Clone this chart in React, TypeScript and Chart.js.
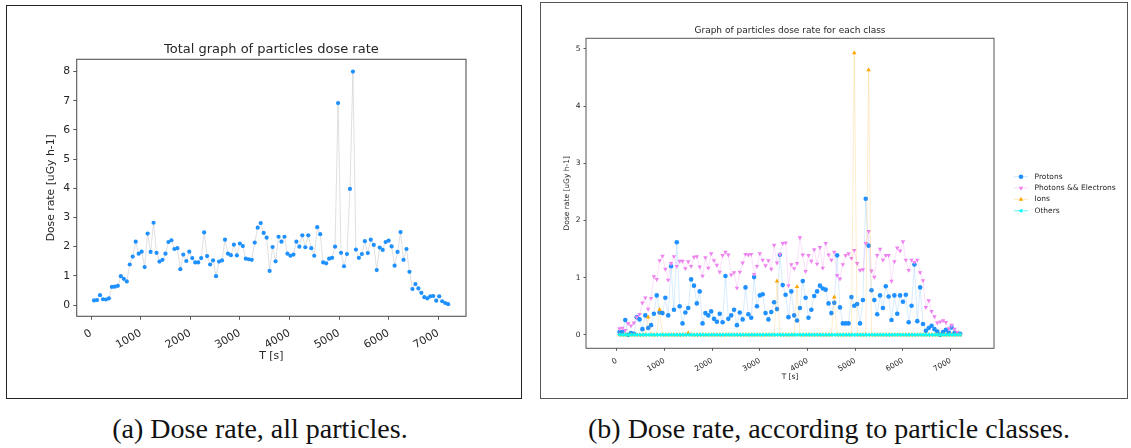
import React, { useEffect, useRef } from "react";
import { Chart, registerables } from "chart.js";

Chart.register(...registerables);

// Sampling instants of the dose-rate series [s]
const timeSec = [
  60, 120, 180, 240, 300, 360, 420, 480, 540, 600,
  660, 720, 780, 840, 900, 960, 1020, 1080, 1140, 1200,
  1260, 1320, 1380, 1440, 1500, 1560, 1620, 1680, 1740, 1800,
  1860, 1920, 1980, 2040, 2100, 2160, 2220, 2280, 2340, 2400,
  2460, 2520, 2580, 2640, 2700, 2760, 2820, 2880, 2940, 3000,
  3060, 3120, 3180, 3240, 3300, 3360, 3420, 3480, 3540, 3600,
  3660, 3720, 3780, 3840, 3900, 3960, 4020, 4080, 4140, 4200,
  4260, 4320, 4380, 4440, 4500, 4560, 4620, 4680, 4740, 4800,
  4860, 4920, 4980, 5040, 5100, 5160, 5220, 5280, 5340, 5400,
  5460, 5520, 5580, 5640, 5700, 5760, 5820, 5880, 5940, 6000,
  6060, 6120, 6180, 6240, 6300, 6360, 6420, 6480, 6540, 6600,
  6660, 6720, 6780, 6840, 6900, 6960, 7020, 7080, 7140, 7200,
];

// Total dose rate, all particles [uGy h-1]
const totalDose = [
  0.16, 0.17, 0.34, 0.20, 0.19, 0.23, 0.62, 0.63, 0.66, 0.99,
  0.90, 0.81, 1.39, 1.66, 2.17, 1.76, 1.83, 1.30, 2.45, 1.82,
  2.82, 1.79, 1.49, 1.55, 1.76, 2.16, 2.22, 1.92, 1.95, 1.23,
  1.73, 1.51, 1.83, 1.61, 1.46, 1.46, 1.61, 2.49, 1.68, 1.39,
  1.53, 0.99, 1.49, 1.53, 2.24, 1.76, 1.71, 2.07, 1.70, 2.11,
  2.02, 1.59, 1.57, 1.55, 2.14, 2.65, 2.81, 2.47, 2.31, 1.17,
  1.99, 1.50, 2.34, 2.17, 2.34, 1.76, 1.69, 1.73, 2.17, 2.00,
  2.39, 1.98, 2.39, 1.95, 1.69, 2.67, 2.43, 1.46, 1.43, 1.59,
  1.62, 2.00, 6.92, 1.79, 1.33, 1.75, 3.98, 8.00, 1.90, 1.62,
  1.75, 2.19, 1.78, 2.24, 2.06, 1.20, 1.97, 1.89, 2.16, 2.21,
  2.01, 1.35, 1.82, 2.50, 1.55, 1.92, 1.14, 0.55, 0.72, 0.57,
  0.42, 0.27, 0.23, 0.30, 0.31, 0.15, 0.30, 0.13, 0.07, 0.03,
];

// Dose rate per particle class [uGy h-1]
const protonDose = [
  0.05, 0.05, 0.26, 0.00, 0.03, 0.02, 0.31, 0.27, 0.10, 0.34,
  0.12, 0.17, 0.37, 0.69, 0.39, 0.38, 0.65, 0.34, 1.20, 0.44,
  1.62, 0.50, 0.20, 0.39, 0.47, 0.97, 0.86, 0.55, 0.76, 0.20,
  0.38, 0.34, 0.41, 0.28, 0.23, 0.37, 0.22, 1.03, 0.28, 0.34,
  0.44, 0.17, 0.39, 0.27, 0.83, 0.36, 0.30, 1.01, 0.50, 0.69,
  0.71, 0.38, 0.27, 0.40, 0.57, 0.45, 1.40, 0.87, 0.70, 0.31,
  0.76, 0.34, 0.25, 0.47, 0.94, 0.65, 0.30, 0.44, 0.68, 0.76,
  0.86, 0.81, 0.79, 0.55, 0.38, 0.56, 1.39, 0.48, 0.20, 0.20,
  0.20, 0.66, 0.51, 0.54, 0.20, 0.61, 2.38, 1.56, 0.78, 0.61,
  0.36, 0.69, 0.47, 0.85, 0.67, 0.26, 0.69, 0.37, 0.69, 0.58,
  0.70, 0.22, 0.51, 1.23, 0.24, 0.83, 0.19, 0.07, 0.12, 0.16,
  0.10, 0.06, 0.00, 0.05, 0.09, 0.04, 0.13, 0.03, 0.02, 0.02,
];

const photonDose = [
  0.11, 0.12, 0.08, 0.20, 0.16, 0.21, 0.31, 0.36, 0.56, 0.65,
  0.45, 0.64, 1.02, 0.97, 1.30, 1.38, 1.15, 0.96, 1.25, 1.37,
  1.20, 1.29, 1.29, 1.16, 1.28, 1.20, 1.36, 1.37, 1.19, 1.03,
  1.35, 1.17, 1.42, 1.30, 1.22, 1.10, 1.39, 1.45, 1.40, 1.05,
  1.09, 0.82, 1.10, 1.26, 1.41, 1.40, 1.41, 1.06, 1.20, 1.42,
  1.31, 1.21, 1.30, 1.15, 1.57, 1.26, 1.41, 1.60, 1.61, 0.86,
  1.23, 1.16, 1.25, 1.70, 1.40, 1.11, 1.39, 1.29, 1.49, 1.24,
  1.53, 1.17, 1.60, 1.40, 1.31, 1.45, 1.04, 0.98, 1.23, 1.39,
  1.42, 1.34, 1.48, 1.25, 1.13, 1.14, 1.60, 1.81, 1.12, 1.01,
  1.39, 1.50, 1.31, 1.39, 1.39, 0.94, 1.28, 1.52, 1.47, 1.63,
  1.31, 1.13, 1.31, 1.27, 1.31, 1.09, 0.95, 0.48, 0.60, 0.41,
  0.32, 0.21, 0.23, 0.25, 0.22, 0.11, 0.17, 0.10, 0.05, 0.01,
];

const ionDose = [
  0, 0, 0, 0, 0, 0, 0, 0, 0, 0,
  0.31, 0, 0, 0, 0.44, 0, 0, 0, 0, 0,
  0, 0, 0, 0, 0.03, 0, 0, 0, 0, 0,
  0, 0, 0, 0, 0, 0, 0, 0, 0, 0,
  0, 0, 0, 0, 0, 0, 0, 0, 0, 0,
  0, 0, 0, 0, 0, 0.94, 0, 0, 0, 0,
  0, 0, 0.84, 0, 0, 0, 0, 0, 0, 0,
  0, 0, 0, 0, 0, 0.66, 0, 0, 0, 0,
  0, 0, 4.93, 0, 0, 0, 0, 4.63, 0, 0,
  0, 0, 0, 0, 0, 0, 0, 0, 0, 0,
  0, 0, 0, 0, 0, 0, 0, 0, 0, 0,
  0, 0, 0, 0, 0, 0, 0, 0, 0, 0,
];

const otherDose = [
  0, 0, 0, 0, 0, 0, 0, 0, 0, 0,
  0, 0, 0, 0, 0, 0, 0, 0, 0, 0,
  0, 0, 0, 0, 0, 0, 0, 0, 0, 0,
  0, 0, 0, 0, 0, 0, 0, 0, 0, 0,
  0, 0, 0, 0, 0, 0, 0, 0, 0, 0,
  0, 0, 0, 0, 0, 0, 0, 0, 0, 0,
  0, 0, 0, 0, 0, 0, 0, 0, 0, 0,
  0, 0, 0, 0, 0, 0, 0, 0, 0, 0,
  0, 0, 0, 0, 0, 0, 0, 0, 0, 0,
  0, 0, 0, 0, 0, 0, 0, 0, 0, 0,
  0, 0, 0, 0, 0, 0, 0, 0, 0, 0,
  0, 0, 0, 0, 0, 0, 0, 0, 0, 0,
];

const classLabels = ["Protons", "Photons && Electrons", "Ions", "Others"];

const timeTicks = [0, 1000, 2000, 3000, 4000, 5000, 6000, 7000];
const totalTicks = [0, 1, 2, 3, 4, 5, 6, 7, 8];
const classTicks = [0, 1, 2, 3, 4, 5];

const SANS = "'DejaVu Sans', 'Liberation Sans', sans-serif";
const SERIF = "'Liberation Serif', 'DejaVu Serif', serif";
const TEXT = "#262626";

const toPoints = (values: number[]) =>
  values.map((v, k) => ({ x: timeSec[k], y: v }));

// Full rectangular frame around the plotting area (all four spines)
const axesFrame = {
  id: "axesFrame",
  afterDraw(chart: any, _args: any, opts: any) {
    const { ctx, chartArea } = chart;
    const { left, top, right, bottom } = chartArea;
    ctx.save();
    ctx.strokeStyle = opts.color || "#444";
    ctx.lineWidth = opts.width || 1;
    ctx.strokeRect(left, top, right - left, bottom - top);
    ctx.restore();
  },
};

function drawMarker(
  ctx: CanvasRenderingContext2D,
  style: string,
  rotation: number,
  r: number,
  x: number,
  y: number,
  color: string
) {
  ctx.fillStyle = color;
  ctx.beginPath();
  if (style === "triangle") {
    let rad = (rotation * Math.PI) / 180;
    ctx.moveTo(x + Math.sin(rad) * r, y - Math.cos(rad) * r);
    rad += (2 * Math.PI) / 3;
    ctx.lineTo(x + Math.sin(rad) * r, y - Math.cos(rad) * r);
    rad += (2 * Math.PI) / 3;
    ctx.lineTo(x + Math.sin(rad) * r, y - Math.cos(rad) * r);
    ctx.closePath();
  } else {
    ctx.arc(x, y, r, 0, Math.PI * 2);
  }
  ctx.fill();
}

// Legend with a line-and-marker handle per dataset, placed beside the axes
const lineLegend = {
  id: "lineLegend",
  afterDraw(chart: any, _args: any, opts: any) {
    const { ctx } = chart;
    ctx.save();
    chart.data.datasets.forEach((ds: any, k: number) => {
      const y = opts.y + k * opts.rowGap;
      ctx.strokeStyle = ds.borderColor;
      ctx.lineWidth = 1;
      ctx.beginPath();
      ctx.moveTo(opts.x, y);
      ctx.lineTo(opts.x + opts.handle, y);
      ctx.stroke();
      drawMarker(
        ctx,
        ds.pointStyle || "circle",
        ds.pointRotation || 0,
        ds.pointRadius,
        opts.x + opts.handle / 2,
        y,
        ds.pointBackgroundColor
      );
      ctx.fillStyle = opts.color;
      ctx.font = `${opts.size}px ${SANS}`;
      ctx.textAlign = "left";
      ctx.textBaseline = "middle";
      ctx.fillText(ds.label, opts.x + opts.handle + opts.gap, y);
    });
    ctx.restore();
  },
};

function xAxis(
  min: number,
  max: number,
  height: number,
  size: number,
  titleBottom: number,
  tickLen: number,
  labelPad: number
) {
  return {
    type: "linear",
    min,
    max,
    afterBuildTicks: (s: any) => {
      s.ticks = timeTicks.map((v) => ({ value: v }));
    },
    afterFit: (s: any) => {
      s.height = height;
    },
    grid: {
      display: true,
      drawOnChartArea: false,
      drawTicks: true,
      tickLength: tickLen,
      tickWidth: 0.8,
      tickColor: "#333",
    },
    border: { display: false },
    ticks: {
      autoSkip: false,
      minRotation: 30,
      maxRotation: 30,
      padding: labelPad,
      color: TEXT,
      font: { family: SANS, size },
      callback: (v: any) => String(v),
    },
    title: {
      display: true,
      text: "T [s]",
      color: TEXT,
      font: { family: SANS, size },
      padding: { top: 0, bottom: titleBottom },
    },
  };
}

function yAxis(
  min: number,
  max: number,
  ticks: number[],
  width: number,
  size: number,
  titleTop: number,
  tickLen: number
) {
  return {
    type: "linear",
    min,
    max,
    afterBuildTicks: (s: any) => {
      s.ticks = ticks.map((v) => ({ value: v }));
    },
    afterFit: (s: any) => {
      s.width = width;
    },
    grid: {
      display: true,
      drawOnChartArea: false,
      drawTicks: true,
      tickLength: tickLen,
      tickWidth: 0.8,
      tickColor: "#333",
    },
    border: { display: false },
    ticks: {
      padding: 3,
      color: TEXT,
      font: { family: SANS, size },
      callback: (v: any) => String(v),
    },
    title: {
      display: true,
      text: "Dose rate [uGy h-1]",
      color: TEXT,
      font: { family: SANS, size },
      padding: { top: titleTop, bottom: 0 },
    },
  };
}

const LEFT_CANVAS = { x: 8, y: 7, w: 510, h: 390 };
const RIGHT_CANVAS = { x: 542, y: 4, w: 584, h: 393 };

export default function App() {
  const leftRef = useRef<HTMLCanvasElement>(null);
  const rightRef = useRef<HTMLCanvasElement>(null);

  useEffect(() => {
    const totalChart = new Chart(leftRef.current as HTMLCanvasElement, {
      type: "line",
      data: {
        datasets: [
          {
            label: "Total",
            data: toPoints(totalDose),
            borderColor: "rgba(200,200,200,0.7)",
            borderWidth: 0.8,
            pointRadius: 2.1,
            pointHoverRadius: 2.1,
            pointBorderWidth: 0,
            pointBackgroundColor: "#1e90ff",
            tension: 0,
          },
        ],
      },
      options: {
        responsive: false,
        animation: false,
        devicePixelRatio: 1,
        layout: { padding: { left: 0, right: 52, top: 0, bottom: 0 } },
        plugins: {
          legend: { display: false },
          tooltip: { enabled: false },
          title: {
            display: true,
            text: "Total graph of particles dose rate",
            fullSize: false,
            color: TEXT,
            font: { family: SANS, size: 13, weight: "normal" },
            padding: { top: 34.5, bottom: 2.2 },
          },
          axesFrame: { color: "#555", width: 1.1 },
        } as any,
        scales: {
          x: xAxis(-290, 7560, 80.7, 10.8, 34.5, 3.5, 7) as any,
          y: yAxis(-0.385, 8.42, totalTicks, 68.7, 10.8, 37, 3.5) as any,
        },
      },
      plugins: [axesFrame],
    });

    const classChart = new Chart(rightRef.current as HTMLCanvasElement, {
      type: "line",
      data: {
        datasets: [
          {
            label: classLabels[0],
            data: toPoints(protonDose),
            order: 4,
            borderColor: "rgba(30,144,255,0.22)",
            borderWidth: 0.8,
            pointStyle: "circle",
            pointRadius: 2.3,
            pointHoverRadius: 2.3,
            pointBorderWidth: 0,
            pointBackgroundColor: "#1e90ff",
            tension: 0,
          },
          {
            label: classLabels[1],
            data: toPoints(photonDose),
            order: 3,
            borderColor: "rgba(238,130,238,0.3)",
            borderWidth: 0.8,
            pointStyle: "triangle",
            pointRotation: 180,
            pointRadius: 2.6,
            pointHoverRadius: 2.6,
            pointBorderWidth: 0,
            pointBackgroundColor: "#ee82ee",
            tension: 0,
          },
          {
            label: classLabels[2],
            data: toPoints(ionDose),
            order: 2,
            borderColor: "rgba(255,165,0,0.25)",
            borderWidth: 0.8,
            pointStyle: "triangle",
            pointRotation: 0,
            pointRadius: 2.6,
            pointHoverRadius: 2.6,
            pointBorderWidth: 0,
            pointBackgroundColor: "#ffa500",
            tension: 0,
          },
          {
            label: classLabels[3],
            data: toPoints(otherDose),
            order: 1,
            borderColor: "rgba(0,230,230,0.6)",
            borderWidth: 0.8,
            pointStyle: "triangle",
            pointRotation: 270,
            pointRadius: 2.6,
            pointHoverRadius: 2.6,
            pointBorderWidth: 0,
            pointBackgroundColor: "#00ffff",
            tension: 0,
          },
        ],
      },
      options: {
        responsive: false,
        animation: false,
        devicePixelRatio: 1,
        layout: { padding: { left: 0, right: 132, top: 0, bottom: 0 } },
        plugins: {
          legend: { display: false },
          tooltip: { enabled: false },
          title: {
            display: true,
            text: "Graph of particles dose rate for each class",
            fullSize: false,
            color: TEXT,
            font: { family: SANS, size: 9, weight: "normal" },
            padding: { top: 21.3, bottom: 2.2 },
          },
          axesFrame: { color: "#555", width: 1 },
          lineLegend: {
            x: 472,
            y: 172.7,
            rowGap: 11.35,
            handle: 14,
            gap: 6.5,
            size: 7.5,
            color: TEXT,
          },
        } as any,
        scales: {
          x: xAxis(-643, 7908, 48.7, 7.5, 15.2, 2.5, 5.5) as any,
          y: yAxis(-0.235, 5.185, classTicks, 44, 7.5, 21, 2.5) as any,
        },
      },
      plugins: [axesFrame, lineLegend],
    });

    return () => {
      totalChart.destroy();
      classChart.destroy();
    };
  }, []);

  const captionStyle: React.CSSProperties = {
    position: "absolute",
    top: 413,
    fontFamily: SERIF,
    fontSize: 28,
    lineHeight: "32px",
    color: "#111",
    textAlign: "center",
    whiteSpace: "nowrap",
  };

  return (
    <div
      style={{
        position: "absolute",
        left: 0,
        top: 0,
        width: 1131,
        height: 448,
        background: "#fff",
        overflow: "hidden",
      }}
    >
      <div
        style={{
          position: "absolute",
          left: 6,
          top: 5,
          width: 514,
          height: 392,
          border: "1px solid #222",
        }}
      />
      <div
        style={{
          position: "absolute",
          left: 540,
          top: 2,
          width: 586,
          height: 395,
          border: "1.5px solid #555",
        }}
      />
      <canvas
        ref={leftRef}
        width={LEFT_CANVAS.w}
        height={LEFT_CANVAS.h}
        style={{
          position: "absolute",
          left: LEFT_CANVAS.x,
          top: LEFT_CANVAS.y,
          width: LEFT_CANVAS.w,
          height: LEFT_CANVAS.h,
        }}
      />
      <canvas
        ref={rightRef}
        width={RIGHT_CANVAS.w}
        height={RIGHT_CANVAS.h}
        style={{
          position: "absolute",
          left: RIGHT_CANVAS.x,
          top: RIGHT_CANVAS.y,
          width: RIGHT_CANVAS.w,
          height: RIGHT_CANVAS.h,
        }}
      />
      <div style={{ ...captionStyle, left: 0, width: 520 }}>
        (a) Dose rate, all particles.
      </div>
      <div style={{ ...captionStyle, left: 535, width: 588 }}>
        (b) Dose rate, according to particle classes.
      </div>
    </div>
  );
}
